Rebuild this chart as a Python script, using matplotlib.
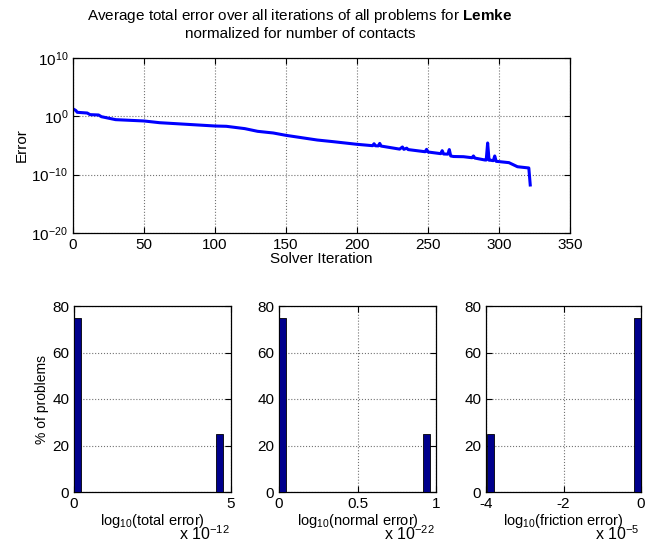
import matplotlib
matplotlib.use("Agg")
import matplotlib.pyplot as plt
from matplotlib.ticker import FuncFormatter, NullLocator

plt.rcParams['font.family'] = ['Liberation Sans', 'DejaVu Sans']
plt.rcParams['mathtext.fontset'] = 'custom'
plt.rcParams['mathtext.rm'] = 'Liberation Sans'
plt.rcParams['mathtext.bf'] = 'Liberation Sans:bold'
plt.rcParams['mathtext.it'] = 'Liberation Sans:italic'

# average error per solver iteration
iteration = [1, 2, 3, 10, 12, 18, 20, 30, 50, 61, 100, 108, 121, 130, 141, 150,
             172, 183, 200, 211, 212, 213, 215, 216, 217, 230, 232, 233, 235, 236,
             248, 249, 250, 259, 260, 261, 264, 265, 266, 268, 275, 281, 282, 283,
             290, 291, 292, 293, 294, 296, 297, 298, 307, 313, 321, 322]
error = [13.8, 10.0, 4.9, 3.7, 1.95, 1.7, 0.87, 0.27, 0.16, 0.081, 0.022, 0.0195,
         7.8e-3, 2.7e-3, 1.4e-3, 5.5e-4, 8.7e-5, 4.6e-5, 1.6e-5, 9.3e-6, 2.0e-5,
         9.0e-6, 8.5e-6, 2.3e-5, 8.0e-6, 2.4e-6, 5.5e-6, 2.2e-6, 3.5e-6, 2.0e-6,
         8.5e-7, 2.2e-6, 7.7e-7, 4.0e-7, 1.3e-6, 3.5e-7, 3.3e-7, 2.0e-6, 1.6e-7,
         1.3e-7, 1.2e-7, 8.0e-8, 1.6e-7, 7.0e-8, 3.3e-8, 3.2e-8, 2.7e-5, 3.0e-8,
         3.0e-8, 2.5e-8, 1.6e-7, 1.95e-8, 1.15e-8, 2.3e-9, 1.4e-9, 1.7e-12]

# histograms: bin centres, bin width, % of problems
total_centers = [0.11e-12, 4.64e-12]
total_width = 0.22e-12
total_pct = [75, 25]

normal_centers = [0.025e-22, 0.94e-22]
normal_width = 0.045e-22
normal_pct = [75, 25]

friction_centers = [-3.89e-5, -0.09e-5]
friction_width = 0.18e-5
friction_pct = [25, 75]

fig = plt.figure(figsize=(6.55, 5.44), dpi=100)
W, H = 655.0, 544.0


def box(l, t, r, b):
    return [l / W, 1 - b / H, (r - l) / W, (b - t) / H]


def matlab_style(ax):
    ax.tick_params(direction='in', top=True, right=True, labelsize=11,
                   length=4, width=0.8)
    for s in ax.spines.values():
        s.set_linewidth(0.9)
    ax.grid(True, linestyle=':', color='0.45', linewidth=0.8)


# top: error vs iteration
ax = fig.add_axes(box(73, 58, 570, 233))
ax.semilogy(iteration, error, color=(0, 0, 1), linewidth=2.2)
ax.set_xlim(0, 350)
ax.set_ylim(1e-20, 1e10)
ax.set_yticks([1e-20, 1e-10, 1e0, 1e10])
ax.yaxis.set_minor_locator(NullLocator())
matlab_style(ax)
ax.set_xlabel('Solver Iteration', fontsize=11, labelpad=0)
ax.set_ylabel('Error', fontsize=11, labelpad=2)
fig.text(300 / W, 1 - 16 / H,
         'Average total error over all iterations of all problems for $\\mathbf{Lemke}$',
         ha='center', va='center', fontsize=11)
fig.text(300 / W, 1 - 34 / H, 'normalized for number of contacts',
         ha='center', va='center', fontsize=11)

hists = [
    (box(74, 306, 231, 492), total_centers, total_width, total_pct,
     (0, 5e-12), [0, 5e-12], 1e-12, 'log$_{10}$(total error)', '-12'),
    (box(279, 306, 436, 492), normal_centers, normal_width, normal_pct,
     (0, 1e-22), [0, 0.5e-22, 1e-22], 1e-22, 'log$_{10}$(normal error)', '-22'),
    (box(486, 306, 641, 492), friction_centers, friction_width, friction_pct,
     (-3.95e-5, 0), [-4e-5, -2e-5, 0], 1e-5, 'log$_{10}$(friction error)', '-5'),
]

for i, (rect, centers, width, pct, xlim, xticks, scale, label, expo) in enumerate(hists):
    hx = fig.add_axes(rect)
    hx.bar(centers, pct, width=width, color=(0, 0, 0.55), edgecolor='black',
           linewidth=0.6, zorder=3)
    hx.set_xlim(*xlim)
    hx.set_ylim(0, 80)
    hx.set_yticks([0, 20, 40, 60, 80])
    hx.set_xticks(xticks)
    hx.xaxis.set_major_formatter(
        FuncFormatter(lambda v, p, s=scale: '%g' % round(v / s, 6)))
    matlab_style(hx)
    hx.set_xlabel(label, fontsize=10.5, labelpad=1)
    hx.text(0.99, -0.175, 'x 10$^{' + expo + '}$', transform=hx.transAxes,
            ha='right', va='top', fontsize=11.5)
    if i == 0:
        hx.set_ylabel('% of problems', fontsize=10, labelpad=2)

fig.savefig('out.png', dpi=100)
